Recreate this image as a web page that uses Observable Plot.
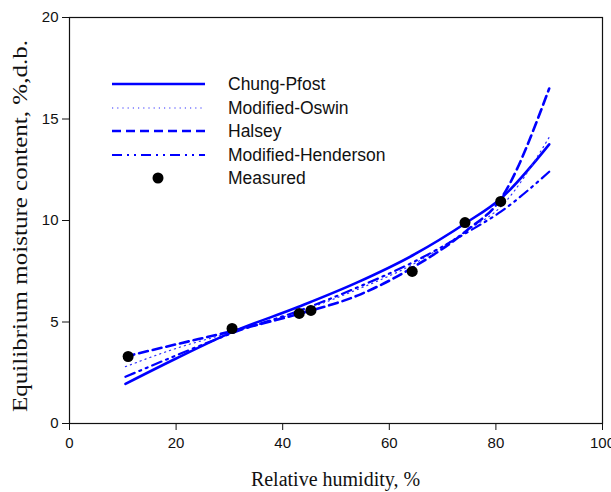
<!DOCTYPE html>
<html><head><meta charset="utf-8">
<script src="https://cdn.jsdelivr.net/npm/d3@7"></script>
<script src="https://cdn.jsdelivr.net/npm/@observablehq/plot@0.6"></script>
<style>
body{margin:0;background:#fff}
#wrap{position:relative;width:611px;height:492px;overflow:hidden}
#legend{position:absolute;left:0;top:0;pointer-events:none}
</style>
</head><body><div id="wrap"></div>
<script>
// Model curves (relative humidity, %) and EMC (%, d.b.)
const rhModel = [10.5, 20, 30.5, 43, 54, 64.5, 74.5, 81, 90];
const chungPfost = [1.95, 3.2, 4.5, 5.75, 6.95, 8.3, 9.9, 11.1, 13.75];
const modOswin = [2.8, 3.7, 4.5, 5.5, 6.6, 7.85, 9.5, 10.7, 14.1];
const halsey = [3.3, 3.9, 4.55, 5.4, 6.3, 7.7, 9.5, 11.1, 16.5];
const modHenderson = [2.3, 3.35, 4.45, 5.55, 6.7, 7.95, 9.4, 10.45, 12.4];
// Measured points
const rhMeasured = [11, 30.5, 43.1, 45.3, 64.3, 74.2, 80.9];
const emcMeasured = [3.3, 4.68, 5.42, 5.57, 7.49, 9.9, 10.94];
// Ticks
const xTicks = [0, 20, 40, 60, 80, 100];
const yTicks = [0, 5, 10, 15, 20];
const seriesNames = ["Chung-Pfost", "Modified-Oswin", "Halsey", "Modified-Henderson"];
const measuredName = "Measured";
const xTitle = "Relative humidity, %";
const yTitle = "Equilibrium moisture content, %,d.b.";

const seriesValues = [chungPfost, modOswin, halsey, modHenderson];
const seriesStyle = [
  {stroke: "#0000ff", strokeWidth: 2.6, strokeDasharray: null},
  {stroke: "#3030ff", strokeWidth: 1.2, strokeDasharray: "1.2,4"},
  {stroke: "#0000ff", strokeWidth: 2.6, strokeDasharray: "9,5"},
  {stroke: "#0000ff", strokeWidth: 2.2, strokeDasharray: "10,5,2,5,2,5"}
];
const measured = rhMeasured.map((rh, i) => ({rh, emc: emcMeasured[i]}));

const lineMarks = seriesNames.map((name, i) => {
  const rows = rhModel.map((rh, j) => ({rh, emc: seriesValues[i][j]}));
  const s = seriesStyle[i];
  const opts = {x: "rh", y: "emc", stroke: s.stroke, strokeWidth: s.strokeWidth, curve: "monotone-x"};
  if (s.strokeDasharray) opts.strokeDasharray = s.strokeDasharray;
  return Plot.line(rows, opts);
});

const plot = Plot.plot({
  width: 611, height: 492,
  marginLeft: 69, marginRight: 9, marginTop: 17, marginBottom: 69,
  style: {fontFamily: "'Liberation Sans', Arial, sans-serif", fontSize: "15px", color: "#111", background: "white"},
  x: {domain: [0, 100]},
  y: {domain: [0, 20]},
  marks: [
    Plot.axisX({ticks: xTicks, tickSize: 7, tickPadding: 7, label: null, tickFormat: d => String(d)}),
    Plot.axisY({ticks: yTicks, tickSize: 7, tickPadding: 4, label: null, tickFormat: d => String(d)}),
    ...lineMarks,
    Plot.dot(measured, {x: "rh", y: "emc", r: 5.5, fill: "black", stroke: "none"}),
    Plot.frame({stroke: "#111", strokeWidth: 1.2})
  ]
});

const wrap = document.getElementById("wrap");
wrap.appendChild(plot);

// Axis titles
const svg = d3.select(plot);
const xs = plot.scale("x"), ys = plot.scale("y");
const xMid = (xs.range[0] + xs.range[1]) / 2;
const yMid = (ys.range[0] + ys.range[1]) / 2;
svg.append("text")
  .attr("x", xMid).attr("y", 486)
  .attr("text-anchor", "middle")
  .style("font-family", "'Liberation Serif', 'Times New Roman', serif")
  .style("font-size", "20px").attr("fill", "#111")
  .text(xTitle);
svg.append("text")
  .attr("transform", `translate(27,${yMid + 6}) rotate(-90)`)
  .attr("text-anchor", "middle")
  .attr("textLength", 372).attr("lengthAdjust", "spacingAndGlyphs")
  .style("font-family", "'Liberation Serif', 'Times New Roman', serif")
  .style("font-size", "20px").attr("fill", "#111")
  .text(yTitle);

// Legend overlay
const leg = d3.select(wrap).append("svg").attr("id", "legend").attr("width", 611).attr("height", 492);
const rowY = [84, 108, 131, 155, 178];
const lx0 = 112, lx1 = 205, tx = 228;
seriesNames.forEach((name, i) => {
  const s = seriesStyle[i];
  leg.append("line").attr("x1", lx0).attr("x2", lx1).attr("y1", rowY[i]).attr("y2", rowY[i])
    .attr("stroke", s.stroke).attr("stroke-width", s.strokeWidth)
    .attr("stroke-dasharray", s.strokeDasharray);
  leg.append("text").attr("x", tx).attr("y", rowY[i] + 6)
    .style("font-family", "'Liberation Sans', Arial, sans-serif").style("font-size", "17.5px")
    .attr("fill", "#111").text(name);
});
leg.append("circle").attr("cx", 158).attr("cy", rowY[4]).attr("r", 5.5).attr("fill", "black");
leg.append("text").attr("x", tx).attr("y", rowY[4] + 6)
  .style("font-family", "'Liberation Sans', Arial, sans-serif").style("font-size", "17.5px")
  .attr("fill", "#111").text(measuredName);
</script>
</body></html>
